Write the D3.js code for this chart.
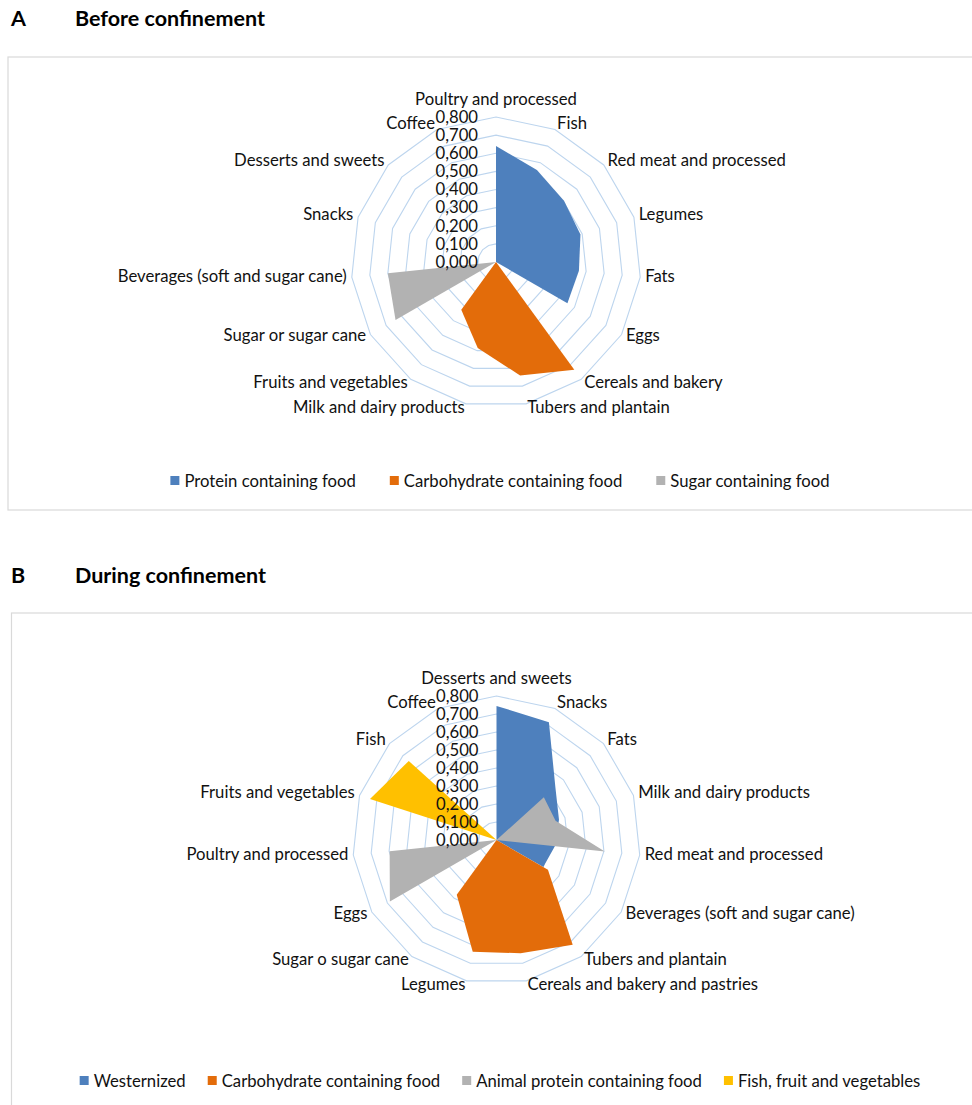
<!DOCTYPE html>
<html>
<head>
<meta charset="utf-8">
<script src="https://cdn.jsdelivr.net/npm/d3@7"></script>
<style>
  body { margin: 0; background: #fff; }
  svg { display: block; font-family: Lato, "Open Sans", sans-serif; }
</style>
</head>
<body>
<div id="chart"></div>
<script>
// ---- data: panel A, before confinement ----
const categoriesA = [
  "Poultry and processed", "Fish", "Red meat and processed", "Legumes", "Fats",
  "Eggs", "Cereals and bakery", "Tubers and plantain", "Milk and dairy products",
  "Fruits and vegetables", "Sugar or sugar cane", "Beverages (soft and sugar cane)",
  "Snacks", "Desserts and sweets", "Coffee"
];
const proteinA = [0.640, 0.555, 0.505, 0.490, 0.460, 0.455, 0, 0, 0, 0, 0, 0, 0, 0, 0];
const carbA    = [0, 0, 0, 0, 0, 0, 0.735, 0.640, 0.485, 0.326, 0, 0, 0, 0, 0];
const sugarA   = [0, 0, 0, 0, 0, 0, 0, 0, 0, 0, 0.640, 0.600, 0, 0, 0];
const seriesNamesA = ["Protein containing food", "Carbohydrate containing food", "Sugar containing food"];

// ---- data: panel B, during confinement ----
const categoriesB = [
  "Desserts and sweets", "Snacks", "Fats", "Milk and dairy products",
  "Red meat and processed", "Beverages (soft and sugar cane)", "Tubers and plantain",
  "Cereals and bakery and pastries", "Legumes", "Sugar o sugar cane", "Eggs",
  "Poultry and processed", "Fruits and vegetables", "Fish", "Coffee"
];
const westernB = [0.745, 0.716, 0.440, 0.365, 0.326, 0.300, 0, 0, 0, 0, 0, 0, 0, 0, 0];
const carbB    = [0, 0, 0, 0, 0, 0.330, 0.720, 0.643, 0.635, 0.376, 0, 0, 0, 0, 0];
const animalB  = [0, 0, 0.354, 0.345, 0.605, 0, 0, 0, 0, 0, 0.684, 0.597, 0, 0, 0];
const fishB    = [0, 0, 0, 0, 0, 0, 0, 0, 0, 0, 0, 0, 0.739, 0.656, 0];
const seriesNamesB = ["Westernized", "Carbohydrate containing food", "Animal protein containing food", "Fish, fruit and vegetables"];

const tickValues = [0, 0.1, 0.2, 0.3, 0.4, 0.5, 0.6, 0.7, 0.8];

const colors = { blue: "#4e80bd", orange: "#e36c0a", gray: "#b2b2b2", yellow: "#ffc000" };

const W = 972, H = 1105;
const fontSize = 16.7;
const svg = d3.select("#chart").append("svg").attr("width", W).attr("height", H);

const comma = d3.formatLocale({ decimal: ",", thousands: ".", grouping: [3], currency: ["", ""] }).format(".3f");

function panelTitle(letter, title, baseline) {
  svg.append("text").attr("x", 11).attr("y", baseline)
    .attr("font-size", 21.5).attr("font-weight", "bold").text(letter);
  svg.append("text").attr("x", 75).attr("y", baseline)
    .attr("font-size", 21.5).attr("font-weight", "bold").text(title);
}

function radar({ top, bottom, boxX, cx, cy, R, categories, series, legendY, legendGap }) {
  // chart area border
  svg.append("rect")
    .attr("x", boxX).attr("y", top)
    .attr("width", W + 20 - boxX).attr("height", bottom - top)
    .attr("fill", "none").attr("stroke", "#d9d9d9").attr("stroke-width", 1.2);

  const g = svg.append("g").attr("transform", `translate(${cx},${cy})`);
  const n = categories.length;
  const step = (2 * Math.PI) / n;
  const r = d3.scaleLinear().domain([0, 0.8]).range([0, R]);

  const radial = d3.lineRadial()
    .angle((d, i) => i * step)
    .radius((d) => r(d))
    .curve(d3.curveLinearClosed);

  // grid rings
  g.append("g")
    .selectAll("path")
    .data(tickValues.slice(1))
    .join("path")
    .attr("d", (t) => radial(d3.range(n).map(() => t)))
    .attr("fill", "none")
    .attr("stroke", "#bdd5ee")
    .attr("stroke-width", 1.1);

  // filled series, later series drawn on top
  g.append("g")
    .selectAll("path")
    .data(series)
    .join("path")
    .attr("d", (s) => radial(s.values))
    .attr("fill", (s) => s.color);

  // value axis labels
  g.append("g")
    .selectAll("text")
    .data(tickValues)
    .join("text")
    .attr("x", -18)
    .attr("y", (t) => -r(t))
    .attr("dy", "0.35em")
    .attr("text-anchor", "end")
    .attr("font-size", fontSize)
    .attr("fill", "#111")
    .text((t) => comma(t));

  // category labels
  g.append("g")
    .selectAll("text")
    .data(categories)
    .join("text")
    .each(function (d, i) {
      const a = i * step;
      const s = Math.sin(a), c = Math.cos(a);
      const el = d3.select(this);
      if (Math.abs(s) < 0.01) {
        el.attr("x", 0).attr("y", -R - 18).attr("text-anchor", "middle");
      } else {
        el.attr("x", (R + 5) * s)
          .attr("y", -(R + 5) * c - 1.5)
          .attr("text-anchor", s > 0 ? "start" : "end");
      }
    })
    .attr("dy", "0.35em")
    .attr("font-size", fontSize)
    .attr("fill", "#111")
    .text((d) => d);

  // legend, centred under the chart
  const lg = svg.append("g");
  const items = lg.selectAll("g").data(series).join("g");
  items.append("rect").attr("width", 9).attr("height", 9).attr("y", -5).attr("fill", (s) => s.color);
  items.append("text").attr("x", 14).attr("dy", "0.35em").attr("font-size", fontSize)
    .attr("fill", "#111").text((s) => s.name);
  let x = 0;
  items.each(function () {
    const w = 14 + this.querySelector("text").getComputedTextLength();
    d3.select(this).attr("transform", `translate(${x},0)`);
    x += w + legendGap;
  });
  const total = x - legendGap;
  lg.attr("transform", `translate(${500 - total / 2},${legendY})`);
}

panelTitle("A", "Before confinement", 26);
radar({
  top: 57, bottom: 510, boxX: 8, cx: 496, cy: 262, R: 145,
  categories: categoriesA,
  series: [
    { name: seriesNamesA[0], values: proteinA, color: colors.blue },
    { name: seriesNamesA[1], values: carbA, color: colors.orange },
    { name: seriesNamesA[2], values: sugarA, color: colors.gray }
  ],
  legendY: 481, legendGap: 34
});

panelTitle("B", "During confinement", 583);
radar({
  top: 613, bottom: 1130, boxX: 11.5, cx: 496.5, cy: 840, R: 144,
  categories: categoriesB,
  series: [
    { name: seriesNamesB[0], values: westernB, color: colors.blue },
    { name: seriesNamesB[1], values: carbB, color: colors.orange },
    { name: seriesNamesB[2], values: animalB, color: colors.gray },
    { name: seriesNamesB[3], values: fishB, color: colors.yellow }
  ],
  legendY: 1081, legendGap: 22
});
</script>
</body>
</html>
